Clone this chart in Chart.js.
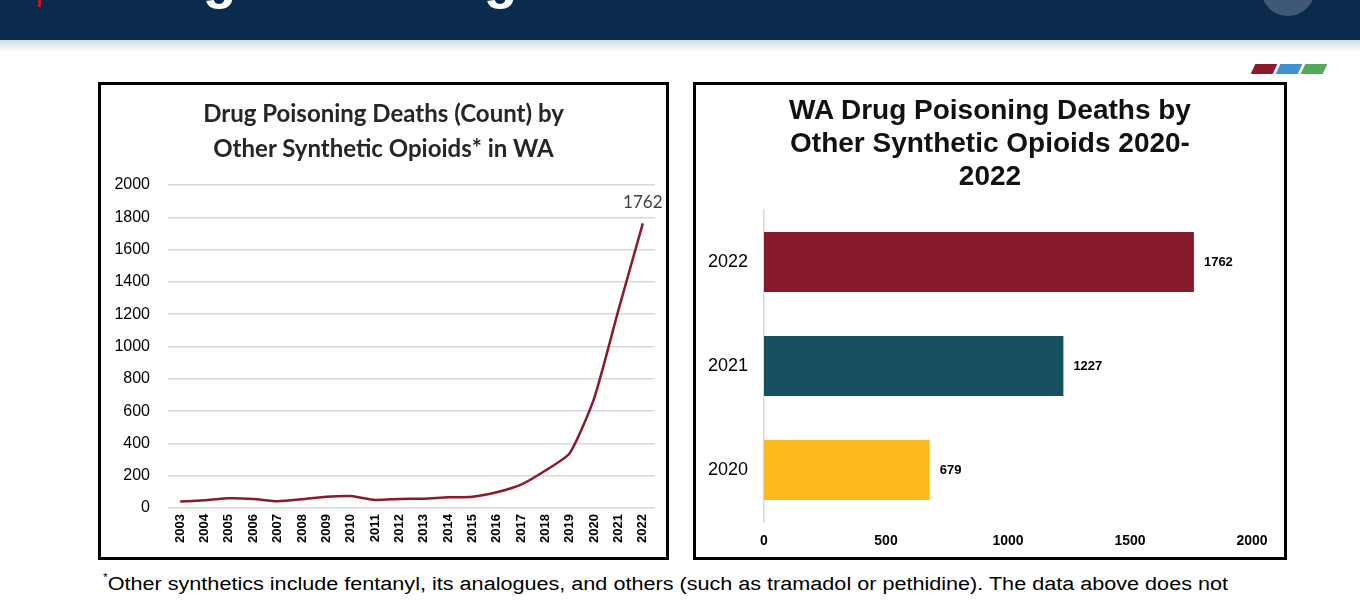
<!DOCTYPE html>
<html><head><meta charset="utf-8">
<script src="https://cdn.jsdelivr.net/npm/chart.js@4.4.1/dist/chart.umd.min.js"></script>
<style>
html,body{margin:0;padding:0;width:1360px;height:600px;overflow:hidden;background:#fff;font-family:"Liberation Sans",Arial,sans-serif;}
#header{position:absolute;left:0;top:0;width:1360px;height:40px;background:#0a2a4e;overflow:hidden;}
#shade{position:absolute;left:0;top:40px;width:1360px;height:12px;background:linear-gradient(#d3dbe6,#ffffff);}
#htitle{position:absolute;left:108px;top:-49px;font:bold 55px "Liberation Sans";line-height:55px;color:#fff;white-space:nowrap;}
#redmark{position:absolute;left:38px;top:0;width:3px;height:7px;background:#c3152e;}
#circle{position:absolute;left:1261px;top:-38px;width:54px;height:54px;border-radius:50%;background:#3f5878;}
.para{position:absolute;top:64px;width:22px;height:10px;transform:skewX(-25deg);}
.box{position:absolute;top:82px;height:472px;border:3px solid #000;background:#fff;}
#lbox{left:98px;width:565px;}
#rbox{left:693px;width:588px;}
.box canvas{position:absolute;left:0;top:0;}
.ttl{position:absolute;left:0;width:100%;text-align:center;white-space:nowrap;color:#1a1a1a;}
#ltitle{top:10px;font:bold 24px Lato,"Open Sans",sans-serif;line-height:35px;color:#262626;}
#rtitle{top:8px;font:bold 28px "Liberation Sans",Arial,sans-serif;line-height:33px;color:#111;}
#foot{position:absolute;left:103px;top:574px;font:18px "Liberation Sans Narrow","Liberation Sans",sans-serif;color:#000;white-space:nowrap;transform-origin:0 0;}
#foot sup{font-size:10px;vertical-align:top;position:relative;top:-2px;}
</style></head>
<body>
<div id="header"><div id="htitle">Drug Poisoning Death Trends in WA</div><div id="redmark"></div><div id="circle"></div></div>
<div id="shade"></div>
<div class="para" style="left:1253px;background:#8b1a2b"></div>
<div class="para" style="left:1278px;background:#3f8fd3"></div>
<div class="para" style="left:1303px;background:#52ab5a"></div>

<div id="lbox" class="box">
  <canvas id="lineChart" width="565" height="472"></canvas>
  <div id="ltitle" class="ttl">Drug Poisoning Deaths (Count) by<br>Other Synthetic Opioids* in WA</div>
</div>
<div id="rbox" class="box">
  <canvas id="barChart" width="588" height="472"></canvas>
  <div id="rtitle" class="ttl">WA Drug Poisoning Deaths by<br>Other Synthetic Opioids 2020-<br>2022</div>
</div>
<div id="foot"><sup>*</sup>Other synthetics include fentanyl, its analogues, and others (such as tramadol or pethidine). The data above does not</div>

<script>
// ---- data ----
const years = ['2003','2004','2005','2006','2007','2008','2009','2010','2011','2012','2013','2014','2015','2016','2017','2018','2019','2020','2021','2022'];
const deaths = [40,48,60,56,42,54,70,74,50,56,58,66,70,98,145,232,340,679,1227,1762];
const lineYMax = 2000;
const lineYStep = 200;

const barYears = ['2022','2021','2020'];
const barValues = [1762,1227,679];
const barColors = ['#861a2a','#164f5e','#fdb81e'];
const barXMax = 2000;
const barXStep = 500;

Chart.defaults.font.family = '"Liberation Sans", Arial, sans-serif';
Chart.defaults.color = '#000';

// fit footnote width
(function(){
  const f = document.getElementById('foot');
  const w = f.getBoundingClientRect().width;
  f.style.transform = 'scaleX(' + (1125 / w) + ')';
})();

const plain = v => String(v);

const lastLabel = {
  id: 'lastLabel',
  afterDatasetsDraw(chart) {
    const meta = chart.getDatasetMeta(0);
    const i = meta.data.length - 1;
    const pt = meta.data[i];
    const ctx = chart.ctx;
    ctx.save();
    ctx.font = '17px Lato, "Open Sans", sans-serif';
    ctx.fillStyle = '#404040';
    ctx.textAlign = 'center';
    ctx.textBaseline = 'middle';
    ctx.fillText(String(chart.data.datasets[0].data[i]), pt.x, pt.y - 21);
    ctx.restore();
  }
};

new Chart(document.getElementById('lineChart'), {
  type: 'line',
  data: { labels: years, datasets: [{ data: deaths, borderColor: '#8b1a2e', borderWidth: 2.5, pointRadius: 0, tension: 0.2, fill: false }] },
  options: {
    responsive: false, animation: false,
    layout: { padding: { top: 100, right: 11, bottom: 0, left: 0 } },
    plugins: { legend: { display: false }, tooltip: { enabled: false } },
    scales: {
      x: {
        offset: true,
        grid: { display: false, drawTicks: false }, border: { display: false },
        ticks: { minRotation: 90, maxRotation: 90, autoSkip: false, padding: 6,
                 font: { weight: 'bold', size: 13 }, color: '#000' },
        afterFit(s) { s.height = 49; }
      },
      y: {
        min: 0, max: lineYMax,
        grid: { color: '#d9d9d9', lineWidth: 1.5, drawTicks: false }, border: { display: false },
        ticks: { stepSize: lineYStep, padding: 18, font: { size: 16 }, color: '#000', callback: plain },
        afterFit(s) { s.width = 67; }
      }
    }
  },
  plugins: [lastLabel]
});

const barLabels = {
  id: 'barLabels',
  afterDatasetsDraw(chart) {
    const meta = chart.getDatasetMeta(0);
    const ctx = chart.ctx;
    ctx.save();
    ctx.font = 'bold 13px "Liberation Sans", Arial, sans-serif';
    ctx.fillStyle = '#000';
    ctx.textAlign = 'left';
    ctx.textBaseline = 'middle';
    meta.data.forEach((bar, i) => {
      ctx.fillText(String(chart.data.datasets[0].data[i]), bar.x + 10, bar.y);
    });
    ctx.restore();
  }
};

new Chart(document.getElementById('barChart'), {
  type: 'bar',
  data: { labels: barYears, datasets: [{ data: barValues, backgroundColor: barColors, barPercentage: 0.577, categoryPercentage: 1 }] },
  options: {
    indexAxis: 'y',
    responsive: false, animation: false,
    layout: { padding: { top: 125, right: 32, bottom: 0, left: 0 } },
    plugins: { legend: { display: false }, tooltip: { enabled: false } },
    scales: {
      x: {
        min: 0, max: barXMax,
        grid: { display: false, drawTicks: false }, border: { display: false },
        ticks: { stepSize: barXStep, padding: 11, font: { weight: 'bold', size: 14 }, color: '#000', callback: plain },
        afterFit(s) { s.height = 35; }
      },
      y: {
        grid: { display: false, drawTicks: false }, border: { display: true, color: '#d9d9d9', width: 1.5 },
        ticks: { padding: 16, font: { size: 18 }, color: '#000' },
        afterFit(s) { s.width = 68; }
      }
    }
  },
  plugins: [barLabels]
});
</script>
</body></html>
